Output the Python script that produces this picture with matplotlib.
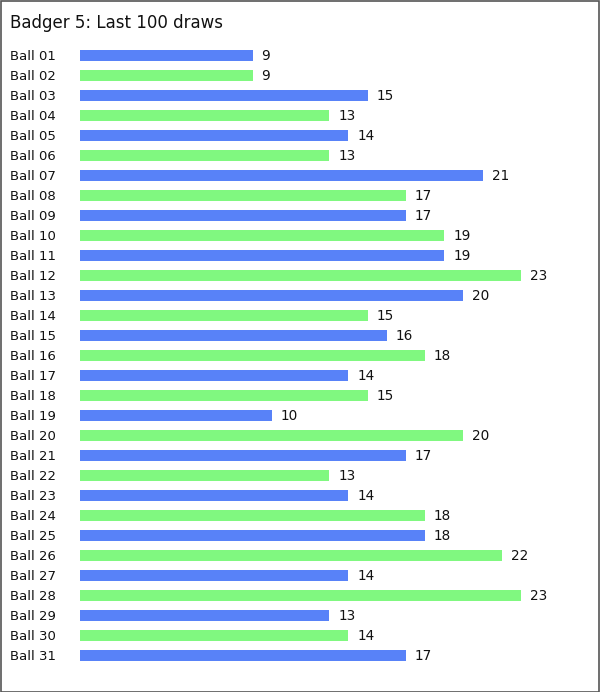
import matplotlib
matplotlib.use("Agg")
import matplotlib.pyplot as plt
from matplotlib.patches import Rectangle

title = "Badger 5: Last 100 draws"
categories = ["Ball %02d" % i for i in range(1, 32)]
values = [9, 9, 15, 13, 14, 13, 21, 17, 17, 19, 19, 23, 20, 15, 16, 18, 14, 15, 10,
          20, 17, 13, 14, 18, 18, 22, 14, 23, 13, 14, 17]
colors = ["#5882F8" if i % 2 == 0 else "#80F880" for i in range(len(values))]

W, H = 600, 692
fig = plt.figure(figsize=(W / 100, H / 100), dpi=100)
fig.patch.set_facecolor("white")

# border
fig.patches.append(Rectangle((0.5 / W, 0.5 / H), 1 - 1.5 / W, 1 - 1.5 / H,
                             transform=fig.transFigure, fill=False,
                             edgecolor="#555555", linewidth=1.2))

left, right = 80, 590
top, bottom = 45, 665
ax = fig.add_axes([left / W, 1 - bottom / H, (right - left) / W, (bottom - top) / H])
ypos = list(range(len(values)))
ax.barh(ypos, values, height=0.55, color=colors)
ax.set_ylim(len(values) - 0.5, -0.5)
ax.set_xlim(0, (right - left) / 19.17)
ax.axis("off")

for y, v, c in zip(ypos, values, categories):
    ax.annotate(str(v), xy=(v, y), xytext=(9, -1), textcoords="offset pixels",
                ha="left", va="center", fontsize=9.8, color="#111111")
    ax.annotate(c, xy=(10, y), xycoords=("figure pixels", "data"),
                xytext=(0, -1), textcoords="offset pixels",
                ha="left", va="center", fontsize=9.5, color="#111111")

fig.text(10 / W, 1 - 23 / H, title, ha="left", va="center", fontsize=12, color="#111111")

fig.savefig("out.png", dpi=100)
